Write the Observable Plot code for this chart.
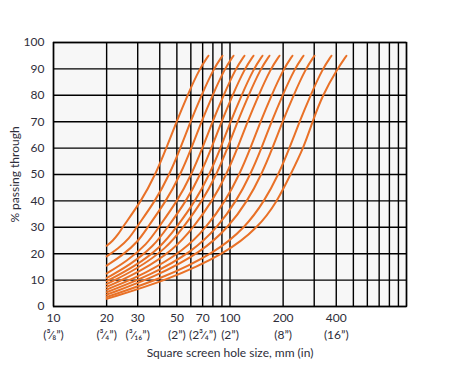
<!DOCTYPE html>
<html><head><meta charset="utf-8">
<script src="https://cdn.jsdelivr.net/npm/d3@7"></script>
<script src="https://cdn.jsdelivr.net/npm/@observablehq/plot@0.6"></script>
<style>
body{margin:0;background:#fff}
#chart svg{font-family:Lato,"Open Sans",sans-serif}
</style>
</head><body><div id="chart"></div>
<script>
// Tick labels
const xTicks = [10, 20, 30, 50, 70, 100, 200, 400];
const xTickInch = ["(³⁄₈”)", "(³⁄₄”)", "(³⁄₁₆”)", "(2”)", "(2³⁄₄”)", "(2”)", "(8”)", "(16”)"];
const xGrid = [10, 20, 30, 40, 50, 60, 70, 80, 90, 100, 200, 300, 400, 500, 600, 700, 800, 900, 1000];
const yTicks = [0, 10, 20, 30, 40, 50, 60, 70, 80, 90, 100];

// Grading curves: [hole size mm, % passing]
const curve1  = [[20,23],[21.6,24.8],[23.3,27.4],[24.6,30],[31.5,40],[37.8,50],[43.6,60],[49.8,70],[57.4,80],[67.1,90],[75.5,95]];
const curve2  = [[20,19],[23.2,21.9],[27.0,25.9],[29.5,30],[37.8,40],[45.4,50],[52.4,60],[59.7,70],[68.9,80],[80.6,90],[90.7,95]];
const curve3  = [[20,15.5],[24.5,19.3],[30.2,24.6],[34.1,30],[43.6,40],[52.4,50],[60.5,60],[68.9,70],[79.6,80],[93.1,90],[104.7,95]];
const curve4  = [[20,12.5],[26.0,17.1],[33.8,23.5],[39.4,30],[50.4,40],[60.5,50],[69.8,60],[79.6,70],[91.9,80],[107.4,90],[120.8,95]];
const curve5  = [[20,10.8],[27.2,15.8],[37.1,22.9],[44.3,30],[56.7,40],[68.0,50],[78.5,60],[89.5,70],[103.3,80],[120.8,90],[135.9,95]];
const curve6  = [[20,9.6],[28.5,14.9],[40.6,22.5],[49.8,30],[63.8,40],[76.5,50],[88.4,60],[100.7,70],[116.2,80],[135.9,90],[152.8,95]];
const curve7  = [[20,8.5],[29.6,14.1],[43.6,22.0],[54.5,30],[69.8,40],[83.9,50],[96.8,60],[110.3,70],[127.3,80],[148.9,90],[167.4,95]];
const curve8  = [[20,7.4],[31.2,13.3],[48.2,21.6],[62.1,30],[79.6,40],[95.5,50],[110.3,60],[125.7,70],[145.1,80],[169.6,90],[190.8,95]];
const curve9  = [[20,6.4],[33.4,12.5],[55.1,21.3],[73.6,30],[94.3,40],[113.2,50],[130.6,60],[148.9,70],[171.8,80],[201,90],[225.9,95]];
const curve10 = [[20,5.4],[35.4,11.8],[61.6,20.9],[85.0,30],[108.9,40],[130.6,50],[150.9,60],[171.8,70],[198.4,80],[232,90],[260.9,95]];
const curve11 = [[20,4.5],[37.4,11.1],[68.9,20.6],[98.1,30],[125.7,40],[150.9,50],[174.1,60],[198.4,70],[229,80],[267.8,90],[301.1,95]];
const curve12 = [[20,3.6],[40.9,10.5],[81.9,20.2],[122.4,30],[156.9,40],[188.3,50],[217.3,60],[247.6,70],[285.8,80],[334.2,90],[375.8,95]];
const curve13 = [[20,2.9],[44.3,10],[94.3,20],[145.1,30],[185.8,40],[220.2,50],[260.9,60],[293.4,70],[334.2,80],[406,90],[457,95]];

const curves = [curve1, curve2, curve3, curve4, curve5, curve6, curve7, curve8, curve9, curve10, curve11, curve12, curve13];
const data = curves.flatMap((c, i) => c.map(([mm, pct]) => ({id: i, mm, pct})));

const txt = "#2e2e3a";
const chart = Plot.plot({
  width: 471,
  height: 383,
  marginLeft: 53,
  marginRight: 65,
  marginTop: 42,
  marginBottom: 77,
  x: {type: "log", domain: [10, 1000], axis: null},
  y: {domain: [0, 100], axis: null},
  style: {fontSize: "12px", color: txt, background: "#fff", overflow: "visible"},
  marks: [
    Plot.frame({fill: "#f7f7f7", stroke: null}),
    Plot.gridX(xGrid, {stroke: "#000", strokeOpacity: 1, strokeWidth: 1.4}),
    Plot.gridY(yTicks, {stroke: "#000", strokeOpacity: 1, strokeWidth: 1.4}),
    Plot.line(data, {x: "mm", y: "pct", z: "id", stroke: "#e97127", strokeWidth: 2, curve: "basis"}),
    Plot.frame({stroke: "#000", strokeWidth: 1.4}),
    Plot.axisY(yTicks, {tickSize: 0, tickPadding: 9, label: null, fontSize: 12, fill: txt}),
    Plot.text(xTicks, {x: d => d, frameAnchor: "bottom", dy: 12, lineAnchor: "middle", textAnchor: "middle",
      text: d => String(d), fontSize: 12, fill: txt}),
    Plot.text(xTicks, {x: d => d, frameAnchor: "bottom", dy: 29, lineAnchor: "middle", textAnchor: "middle",
      text: (d, i) => xTickInch[i], fontSize: 12, fill: txt}),
    Plot.text(["% passing through"], {frameAnchor: "left", dx: -38, rotate: -90, textAnchor: "middle", fontSize: 12, fill: txt}),
    Plot.text(["Square screen hole size, mm (in)"], {frameAnchor: "bottom", dy: 47, lineAnchor: "middle", textAnchor: "middle", fontSize: 12, fill: txt})
  ]
});
document.getElementById("chart").appendChild(chart);
</script>
</body></html>
